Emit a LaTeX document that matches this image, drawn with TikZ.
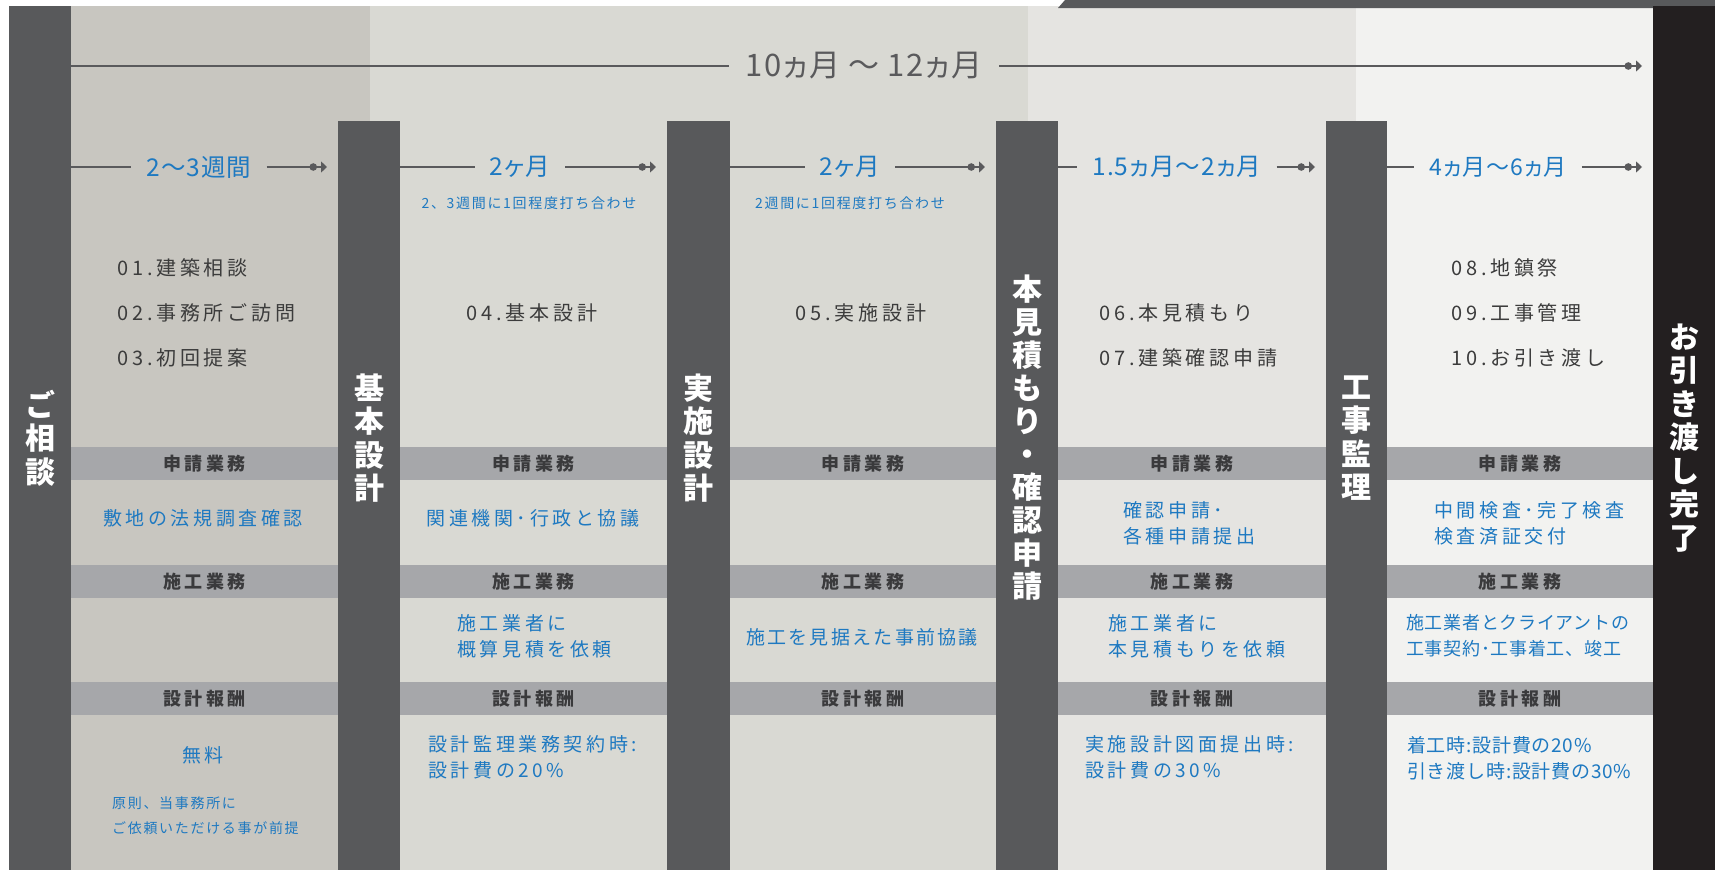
\documentclass[tikz,border=0pt]{standalone}
\usepackage{fontspec}
\setmainfont{Noto Sans CJK JP}
\newfontfamily\spaced[LetterSpace=12]{Noto Sans CJK JP}
\newfontfamily\wide[LetterSpace=19]{Noto Sans CJK JP}
\newfontfamily\tight[LetterSpace=4]{Noto Sans CJK JP}
\newfontfamily\propo[RawFeature=+palt,LetterSpace=4]{Noto Sans CJK JP}
\usetikzlibrary{arrows.meta}

\definecolor{barcol}{RGB}{88,89,91}
\definecolor{endcol}{RGB}{35,31,32}
\definecolor{shadeA}{RGB}{200,198,192}
\definecolor{shadeB}{RGB}{217,217,211}
\definecolor{shadeC}{RGB}{229,228,225}
\definecolor{shadeD}{RGB}{242,242,240}
\definecolor{bandcol}{RGB}{166,167,170}
\definecolor{bandtxt}{RGB}{58,58,60}
\definecolor{txtblue}{RGB}{30,121,193}
\definecolor{txtgray}{RGB}{60,60,60}
\definecolor{linecol}{RGB}{90,90,92}

\begin{document}
\begin{tikzpicture}[x=1pt,y=-1pt,
    vlabel/.style={text=white,align=center,inner sep=0pt,font=\fontsize{30}{33.5}\selectfont\bfseries},
    period/.style={text=txtblue,inner xsep=15pt,inner ysep=0pt,font=\propo\fontsize{24.5}{24.5}\selectfont},
    timeline/.style={draw=linecol,line width=1.3pt},
    tip/.style={-{Circle[length=7.5pt,sep=4pt]Triangle[length=6pt,width=11pt]}},
    item/.style={text=txtgray,inner sep=0pt,font=\wide\fontsize{20}{20}\selectfont},
    bandlab/.style={text=bandtxt,inner sep=0pt,font=\wide\fontsize{18}{18}\selectfont\bfseries},
    body/.style={text=txtblue,inner sep=0pt,align=left,font=\wide\fontsize{19}{26}\selectfont},
    subnote/.style={text=txtblue,inner sep=0pt,align=left,font=\spaced\fontsize{14}{25}\selectfont}]

    \useasboundingbox (0,0) rectangle (1715,870);
    \fill[white] (0,0) rectangle (1715,870);

    % background shades
    \fill[shadeA] (71,6) rectangle (370,870);
    \fill[shadeB] (370,6) rectangle (1028,870);
    \fill[shadeC] (1028,6) rectangle (1356,870);
    \fill[shadeD] (1356,6) rectangle (1653,870);
    \fill[barcol] (1058,8) -- (1065,0) -- (1715,0) -- (1715,8) -- cycle;

    % bands
    \foreach \l/\r [count=\i] in {71/338,400/667,730/996,1058/1326,1387/1653} {
        \foreach \t/\lab [count=\j] in {447/申請業務,565/施工業務,682/設計報酬} {
            \fill[bandcol] (\l,\t) rectangle (\r,\t+33);
            \node[bandlab] (h\i\j) at ({(\l+\r)/2},\t+16.5) {\lab};
        }
    }

    % bars
    \fill[barcol] (9,6) rectangle (71,870);
    \foreach \l/\r in {338/400,667/730,996/1058,1326/1387}
        \fill[barcol] (\l,121) rectangle (\r,870);
    \fill[endcol] (1653,6) rectangle (1715,870);

    \node[vlabel] (v0) at (40,438) {ご\\相\\談};
    \node[vlabel] (v1) at (369,438) {基\\本\\設\\計};
    \node[vlabel] (v2) at (698.5,438) {実\\施\\設\\計};
    \node[vlabel,font=\fontsize{30}{33}\selectfont\bfseries] (v3) at (1027,438) {本\\見\\積\\も\\り\\・\\確\\認\\申\\請};
    \node[vlabel] (v4) at (1356.5,438) {工\\事\\監\\理};
    \node[vlabel] (v5) at (1684,438) {お\\引\\き\\渡\\し\\完\\了};

    % total period
    \coordinate (ta) at (71,66);
    \coordinate (tb) at (1642,66);
    \node[period,text=linecol,inner xsep=17pt,font=\propo\fontsize{31}{31}\selectfont] (total) at (864,66) {10ヵ月 〜 12ヵ月};
    \draw[timeline] (ta) -- (total);
    \draw[timeline,tip] (total) -- (tb);

    % periods
    \foreach \i/\a/\c/\b/\txt in {0/71/199/327/2〜3週間,1/400/520/656/2ヶ月,2/730/850/985/2ヶ月,3/1058/1177/1315/1.5ヵ月〜2ヵ月} {
        \coordinate (a\i) at (\a,167);
        \node[period] (p\i) at (\c,167) {\txt};
        \coordinate (b\i) at (\b,167);
        \draw[timeline] (a\i) -- (p\i);
        \draw[timeline,tip] (p\i) -- (b\i);
    }
    \coordinate (a4) at (1387,167);
    \node[period,font=\propo\fontsize{23}{23}\selectfont] (p4) at (1498,167) {4ヵ月〜6ヵ月};
    \coordinate (b4) at (1642,167);
    \draw[timeline] (a4) -- (p4);
    \draw[timeline,tip] (p4) -- (b4);
    \node[subnote] (n1) at (529,203) {2、3週間に1回程度打ち合わせ};
    \node[subnote] (n2) at (850,203) {2週間に1回程度打ち合わせ};

    % steps
    \node[item,anchor=west] (s1) at (117,268) {01.建築相談};
    \node[item,anchor=west] (s2) at (117,313) {02.事務所ご訪問};
    \node[item,anchor=west] (s3) at (117,358) {03.初回提案};
    \node[item] (s4) at (532,313) {04.基本設計};
    \node[item] (s5) at (861,313) {05.実施設計};
    \node[item,anchor=west] (s6) at (1099,313) {06.本見積もり};
    \node[item,anchor=west] (s7) at (1099,358) {07.建築確認申請};
    \node[item,anchor=west] (s8) at (1451,268) {08.地鎮祭};
    \node[item,anchor=west] (s9) at (1451,313) {09.工事管理};
    \node[item,anchor=west] (s10) at (1451,358) {10.お引き渡し};

    % application tasks
    \node[body] (r11) at (203,518) {敷地の法規調査確認};
    \node[body] (r12) at (533,518) {関連機関･行政と協議};
    \node[body,anchor=west] (r14) at (1123,523) {確認申請･\\各種申請提出};
    \node[body,anchor=west] (r15) at (1434,523) {中間検査･完了検査\\検査済証交付};

    % construction tasks
    \node[body,anchor=west] (r22) at (457,636) {施工業者に\\概算見積を依頼};
    \node[body,font=\spaced\fontsize{19}{26}\selectfont] (r23) at (862,637) {施工を見据えた事前協議};
    \node[body,anchor=west] (r24) at (1108,636) {施工業者に\\本見積もりを依頼};
    \node[body,anchor=west,font=\tight\fontsize{18}{26}\selectfont] (r25) at (1406,636) {施工業者とクライアントの\\工事契約･工事着工、竣工};

    % fees
    \node[body] (r31) at (203,755) {無料};
    \node[subnote,anchor=west] (r31n) at (112,815.5) {原則、当事務所に\\ご依頼いただける事が前提};
    \node[body,anchor=west] (r32) at (428,757) {設計監理業務契約時:\\設計費の20\%};
    \node[body,anchor=west] (r34) at (1085,757) {実施設計図面提出時:\\設計費の30\%};
    \node[body,anchor=west,font=\tight\fontsize{19}{26}\selectfont] (r35) at (1407,758) {着工時:設計費の20\%\\引き渡し時:設計費の30\%};

\end{tikzpicture}
\end{document}
